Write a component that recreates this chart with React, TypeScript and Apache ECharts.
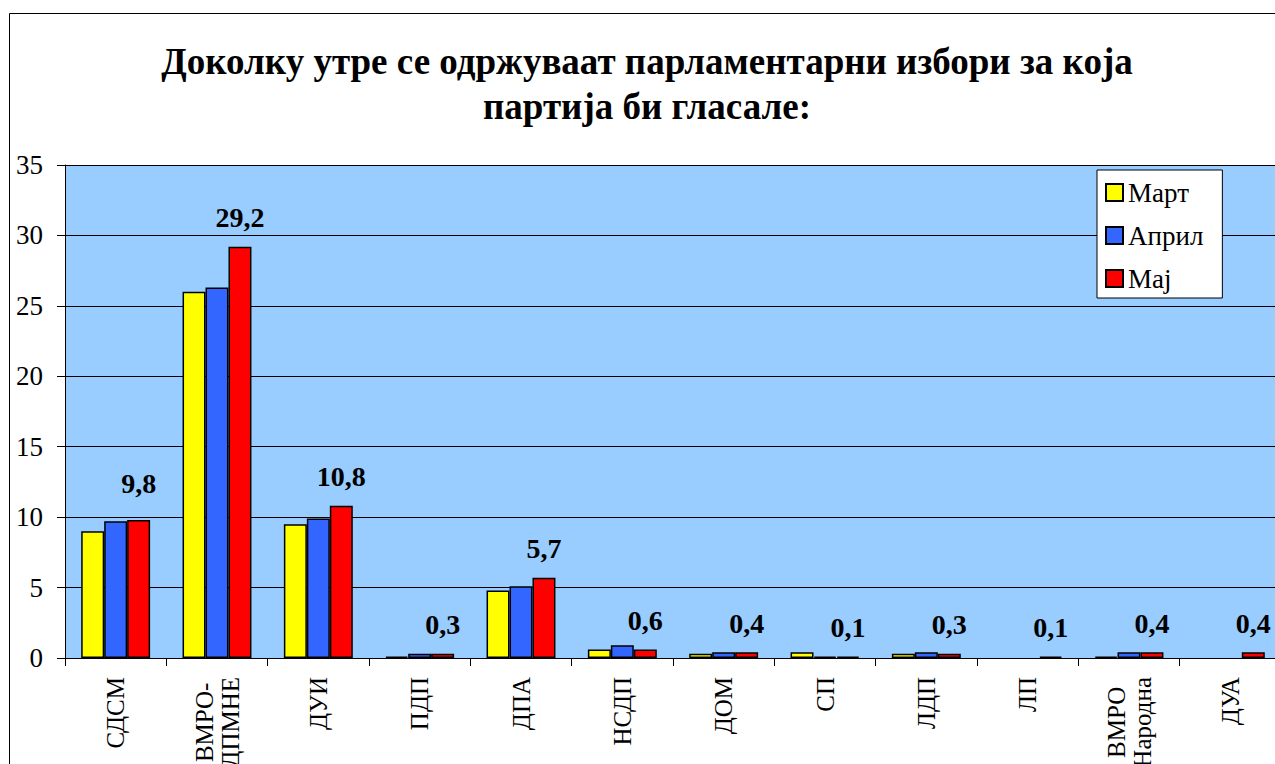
import React, { useEffect, useRef } from "react";
import * as echarts from "echarts";

const titleText = "Доколку утре се одржуваат парламентарни избори за која\nпартија би гласале:";
const categories = ["СДСМ", "ВМРО-\nДПМНЕ", "ДУИ", "ПДП", "ДПА", "НСДП", "ДОМ", "СП", "ЛДП", "ЛП", "ВМРО\nНародна", "ДУА"];
const seriesNames = ["Март", "Април", "Мај"];
const mart = [9.0, 26.0, 9.5, 0.1, 4.8, 0.6, 0.3, 0.4, 0.3, 0, 0.1, 0];
const april = [9.7, 26.3, 9.9, 0.3, 5.1, 0.9, 0.4, 0.1, 0.4, 0, 0.4, 0];
const maj = [9.8, 29.2, 10.8, 0.3, 5.7, 0.6, 0.4, 0.1, 0.3, 0.1, 0.4, 0.4];
const yTicks = { min: 0, max: 35, interval: 5 };

const FONT = "Liberation Serif";
const colors = ["#FFFF00", "#3366FF", "#FF0000"];

export default function App() {
  const ref = useRef<HTMLDivElement>(null);
  useEffect(() => {
    if (!ref.current) return;
    const chart = echarts.init(ref.current, null, { renderer: "svg" });
    const allData = [mart, april, maj];
    const series = allData.map((arr, i) => ({
      name: seriesNames[i],
      type: "bar",
      barGap: "0%",
      barCategoryGap: "32%",
      itemStyle: { color: colors[i], borderColor: "#000", borderWidth: 1.5 },
      data: arr.map((v, j) => {
        const val = v === 0 ? null : v;
        if (i === 2 && j === 0) {
          return { value: val, label: { distance: 22 } };
        }
        return val;
      }),
      label:
        i === 2
          ? {
              show: true,
              position: "top",
              distance: 15,
              fontSize: 28,
              fontWeight: "bold",
              fontFamily: FONT,
              color: "#000",
              formatter: (p: any) => String(p.value).replace(".", ","),
            }
          : { show: false },
    }));
    chart.setOption({
      animation: false,
      backgroundColor: "#fff",
      graphic: [
        {
          type: "rect",
          z: -10,
          shape: { x: 9.5, y: 13.5, width: 1400, height: 900 },
          style: { fill: "none", stroke: "#000", lineWidth: 1 },
        },
        {
          type: "text",
          x: 647,
          y: 84,
          style: {
            text: titleText,
            fontSize: 37,
            fontWeight: "bold",
            fontFamily: FONT,
            fill: "#000",
            align: "center",
            verticalAlign: "middle",
            lineHeight: 45,
          },
        },
      ],
      legend: {
        orient: "vertical",
        left: 1097,
        top: 170,
        padding: [9, 19, 6, 8],
        itemGap: 16,
        itemWidth: 17,
        itemHeight: 17,
        icon: "rect",
        backgroundColor: "#fff",
        borderColor: "#000",
        borderWidth: 1,
        textStyle: { fontSize: 27, fontFamily: FONT, color: "#000" },
        data: seriesNames,
      },
      grid: {
        left: 65,
        top: 165,
        width: 1216,
        height: 493,
        show: true,
        backgroundColor: "#99CCFF",
        borderWidth: 0,
      },
      xAxis: {
        type: "category",
        data: categories,
        axisLine: { show: true, lineStyle: { color: "#000", width: 1 } },
        axisTick: { show: true, length: 8, lineStyle: { color: "#000" } },
        axisLabel: {
          rotate: 90,
          margin: 19,
          interval: 0,
          color: "#000",
          fontSize: 25,
          fontFamily: FONT,
          formatter: (v: string) => v.split("\n").map((s) => `{c|${s}}`).join("\n"),
          rich: { c: { align: "center", fontSize: 25, fontFamily: FONT, color: "#000", lineHeight: 26 } },
        },
      },
      yAxis: {
        type: "value",
        min: yTicks.min,
        max: yTicks.max,
        interval: yTicks.interval,
        axisLine: { show: true, lineStyle: { color: "#000", width: 1 } },
        axisTick: { show: true, length: 8, lineStyle: { color: "#000" } },
        splitLine: { show: true, lineStyle: { color: "#000", width: 1 } },
        axisLabel: { margin: 22, color: "#000", fontSize: 27, fontFamily: FONT },
      },
      series,
    });
    return () => chart.dispose();
  }, []);
  return (
    <div style={{ position: "fixed", left: 0, top: 0, width: 1275, height: 764, overflow: "hidden" }}>
      <div ref={ref} style={{ width: 1320, height: 800 }} />
    </div>
  );
}
